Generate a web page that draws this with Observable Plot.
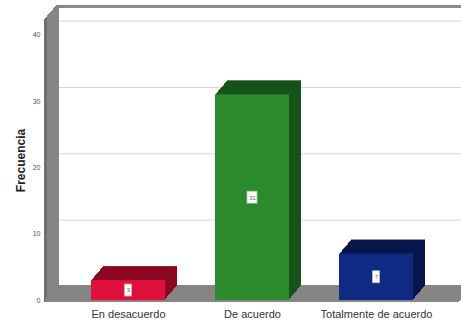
<!DOCTYPE html>
<html>
<head>
<meta charset="utf-8">
<script src="https://cdn.jsdelivr.net/npm/d3@7"></script>
<script src="https://cdn.jsdelivr.net/npm/@observablehq/plot@0.6"></script>
<style>
  html, body { margin: 0; padding: 0; background: #fff; }
  #chart svg { display: block; font-family: "Liberation Sans", Arial, sans-serif; }
  g[aria-label="y-axis label"] text { font-size: 12px; font-weight: bold; fill: #222; }
</style>
</head>
<body>
<div id="chart"></div>
<script>
const categories = ["En desacuerdo", "De acuerdo", "Totalmente de acuerdo"];
const values = [3, 31, 7];
const frontColors = ["#e0103c", "#2b8a2b", "#0e2a82"];
const topColors = ["#a80a26", "#1c661c", "#0a1d5e"];
const sideColors = ["#8c0820", "#15531a", "#07164a"];
const yTicks = [0, 10, 20, 30, 40];
const yLabel = "Frecuencia";

const data = categories.map((c, i) => ({cat: c, value: values[i], front: frontColors[i], top: topColors[i], side: sideColors[i]}));

const DX = 12, DY = 14;
const steps = d3.range(DX, 0, -1);
const off = i => -Math.round(i * DY / DX);
const marks = [];

// back wall gridlines and top border
marks.push(Plot.ruleY(yTicks.filter(t => t > 0), {stroke: "#d6d6d6", strokeWidth: 1, dx: DX, dy: -DY}));
marks.push(Plot.frame({anchor: "top", stroke: "#8a8a8a", strokeWidth: 3, dx: DX, dy: -DY}));

// left wall
for (let i = 0; i <= DX; i++) {
  marks.push(Plot.frame({anchor: "left", stroke: i < 3 ? "#707070" : "#858585", strokeWidth: 3, dx: i, dy: off(i)}));
}
// floor
for (let i = 0; i <= DX; i++) {
  marks.push(Plot.ruleY([0], {stroke: "#858585", strokeWidth: 3, dx: i, dy: off(i)}));
}

// bar extrusions (side)
for (const i of steps) {
  marks.push(Plot.barY(data, {x: "cat", y: "value", fill: "side", dx: i, dy: off(i)}));
}
// top faces
for (const i of steps) {
  marks.push(Plot.ruleY(data, {x: "cat", y: "value", stroke: "top", strokeWidth: 1.6, dx: i, dy: off(i)}));
}
// front faces
marks.push(Plot.barY(data, {x: "cat", y: "value", fill: "front"}));

// value labels (small white boxes)
const small = data.filter(d => d.value < 10), large = data.filter(d => d.value >= 10);
marks.push(Plot.barY(small, {x: "cat", y1: d => d.value / 2 - 0.9, y2: d => d.value / 2 + 0.9, fill: "#fff", stroke: "#bbb", strokeWidth: 0.8, insetLeft: 33.5, insetRight: 33.5}));
marks.push(Plot.barY(large, {x: "cat", y1: d => d.value / 2 - 0.9, y2: d => d.value / 2 + 0.9, fill: "#fff", stroke: "#bbb", strokeWidth: 0.8, insetLeft: 32, insetRight: 32}));
marks.push(Plot.text(data, {x: "cat", y: d => d.value / 2, text: d => String(d.value), fontSize: 6, fill: "#666"}));

// axes
marks.push(Plot.axisY({ticks: yTicks, tickSize: 0, tickPadding: 5, fontSize: 7, fill: "#555", label: yLabel, labelAnchor: "center", labelOffset: 29, labelArrow: "none"}));
marks.push(Plot.axisX({tickSize: 0, tickPadding: 10, fontSize: 11, fill: "#333", label: null}));

const chart = Plot.plot({
  width: 461,
  height: 323,
  marginLeft: 45,
  marginRight: 2,
  marginTop: 20,
  marginBottom: 23,
  x: {domain: categories, paddingInner: 0.4, paddingOuter: 0.366},
  y: {domain: [0, 42.2]},
  color: {type: "identity"},
  marks
});
document.getElementById("chart").appendChild(chart);
</script>
</body>
</html>
